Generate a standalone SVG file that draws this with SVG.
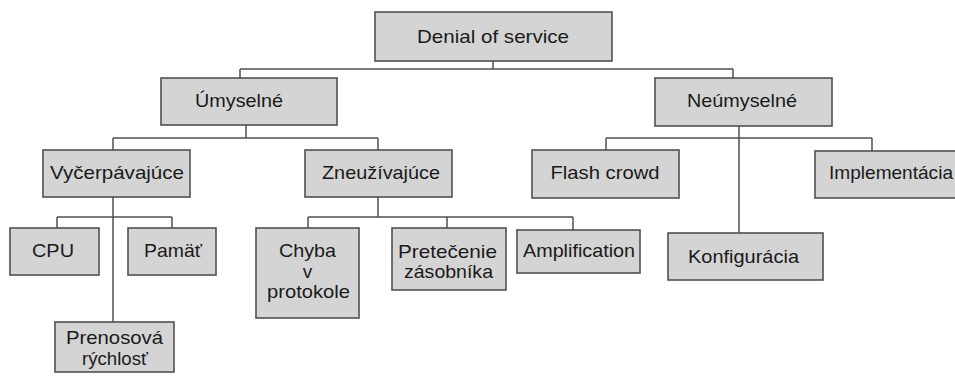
<svg xmlns="http://www.w3.org/2000/svg" width="955" height="376" viewBox="0 0 955 376">
<style>
.box{fill:#d4d4d4;stroke:#505050;stroke-width:1.6}
.t{font-family:"Liberation Sans",Arial,sans-serif;font-size:19px;fill:#1a1a1a;text-anchor:middle}
.c{stroke:#505050;stroke-width:1.5;fill:none}
</style>
<rect width="955" height="376" fill="#ffffff"/>
<g id="connectors">
<path class="c" d="M493,61V69M240,69H733M240,69V78M733,69V78"/>
<path class="c" d="M246,125V138M113,138H378M113,138V150M378,138V150"/>
<path class="c" d="M739,126V233M606,138H872M606,138V150M872,138V151"/>
<path class="c" d="M113,197V322M57,217H172M57,217V228M172,217V228"/>
<path class="c" d="M378,197V217M308,217H573M308,217V228M447,217V228M573,217V230"/>
</g>
<g id="denial"><rect class="box" x="375" y="12" width="237" height="49"/><text class="t" x="493" y="43" textLength="152" lengthAdjust="spacingAndGlyphs">Denial of service</text></g>
<g id="umyselne"><rect class="box" x="161" y="78" width="176" height="47"/><text class="t" x="239" y="107" textLength="88" lengthAdjust="spacingAndGlyphs">Úmyselné</text></g>
<g id="neumyselne"><rect class="box" x="655" y="78" width="177" height="48"/><text class="t" x="742" y="107" textLength="110" lengthAdjust="spacingAndGlyphs">Neúmyselné</text></g>
<g id="vycerpavajuce"><rect class="box" x="43" y="150" width="147" height="47"/><text class="t" x="117" y="179" textLength="134" lengthAdjust="spacingAndGlyphs">Vyčerpávajúce</text></g>
<g id="zneuzivajuce"><rect class="box" x="305" y="150" width="147" height="47"/><text class="t" x="381" y="179" textLength="118" lengthAdjust="spacingAndGlyphs">Zneužívajúce</text></g>
<g id="flashcrowd"><rect class="box" x="532" y="150" width="147" height="48"/><text class="t" x="605" y="179" textLength="109" lengthAdjust="spacingAndGlyphs">Flash crowd</text></g>
<g id="implementacia"><rect class="box" x="815" y="151" width="160" height="47"/><text class="t" x="891" y="179" textLength="124" lengthAdjust="spacingAndGlyphs">Implementácia</text></g>
<g id="cpu"><rect class="box" x="10" y="228" width="89" height="47"/><text class="t" x="53" y="257" textLength="42" lengthAdjust="spacingAndGlyphs">CPU</text></g>
<g id="pamat"><rect class="box" x="128" y="228" width="88" height="47"/><text class="t" x="173" y="257" textLength="58" lengthAdjust="spacingAndGlyphs">Pamäť</text></g>
<g id="chyba"><rect class="box" x="256" y="228" width="103" height="90"/><text class="t" x="307.5" y="257" textLength="57" lengthAdjust="spacingAndGlyphs">Chyba</text><text class="t" x="307.5" y="278">v</text><text class="t" x="308.5" y="298" textLength="83" lengthAdjust="spacingAndGlyphs">protokole</text></g>
<g id="pretecenie"><rect class="box" x="392" y="228" width="114" height="62"/><text class="t" x="447.5" y="258" textLength="99" lengthAdjust="spacingAndGlyphs">Pretečenie</text><text class="t" x="448.5" y="278" textLength="89" lengthAdjust="spacingAndGlyphs">zásobníka</text></g>
<g id="amplification"><rect class="box" x="517" y="230" width="123" height="43"/><text class="t" x="579" y="257" textLength="112" lengthAdjust="spacingAndGlyphs">Amplification</text></g>
<g id="konfiguracia"><rect class="box" x="668" y="233" width="155" height="47"/><text class="t" x="743.5" y="263" textLength="111" lengthAdjust="spacingAndGlyphs">Konfigurácia</text></g>
<g id="prenosova"><rect class="box" x="55" y="322" width="119" height="50"/><text class="t" x="114.5" y="344" textLength="97" lengthAdjust="spacingAndGlyphs">Prenosová</text><text class="t" x="115" y="365" textLength="66" lengthAdjust="spacingAndGlyphs">rýchlosť</text></g>
</svg>
